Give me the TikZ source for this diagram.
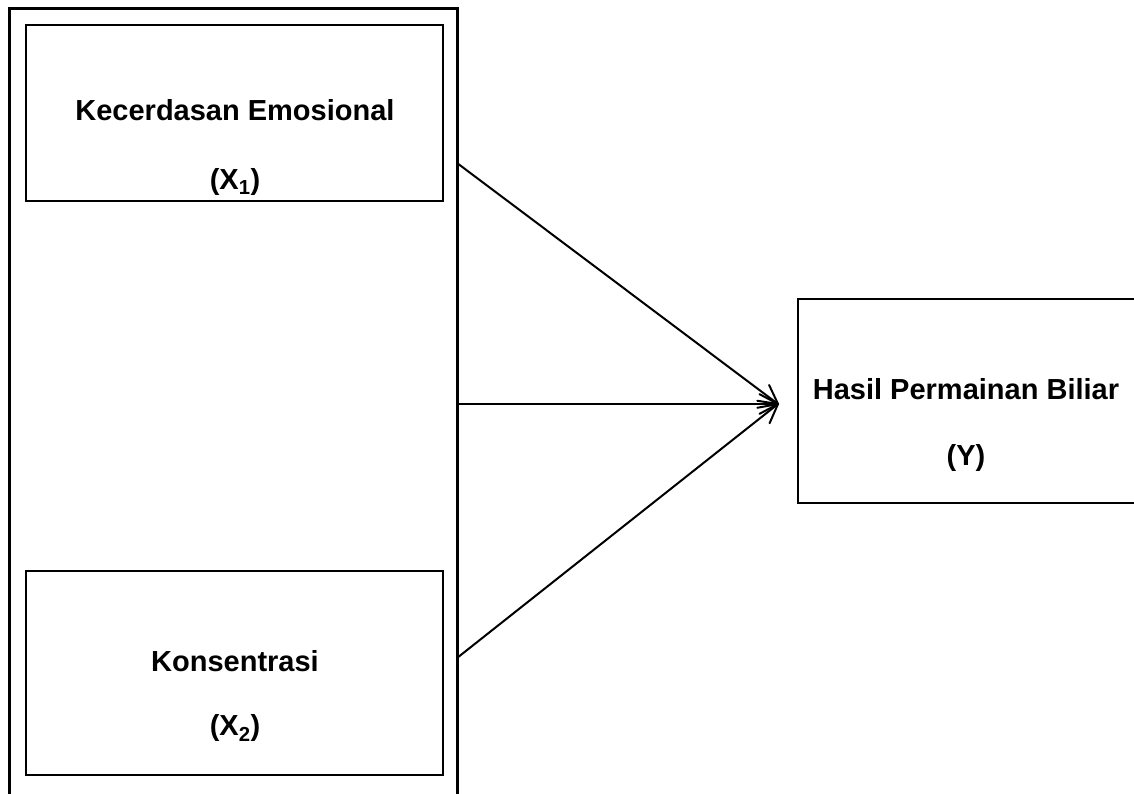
\documentclass[tikz,border=0pt]{standalone}
\usepackage{fontspec}
\setmainfont{Liberation Sans}
\usetikzlibrary{calc}
\tikzset{
  frame/.style={draw=black, line width=3pt},
  box/.style={draw=black, line width=2pt, rectangle, inner sep=0pt},
  lbl/.style={font=\fontsize{29}{34}\selectfont\bfseries, inner sep=0pt, anchor=center},
  conn/.style={draw=black, line width=2pt, line cap=round, line join=round},
}
\newcommand{\barbto}[2]{%
  \draw[conn] (#1) -- (#2);
  \draw[conn] ($(#2)!21pt!28:(#1)$) -- (#2) -- ($(#2)!21pt!-28:(#1)$);
}
\begin{document}
\begin{tikzpicture}[x=1pt,y=1pt]
\useasboundingbox (0,0) rectangle (1134,-794);
% outer frame (bottom runs off the page)
\draw[frame] (9,-810) -- (9,-9) -- (457,-9) -- (457,-810);
% boxes
\node[box, minimum width=417pt, minimum height=176pt] (x1) at (234.5,-113) {};
\node[box, minimum width=417pt, minimum height=204pt] (x2) at (234.5,-673) {};
\node[box, minimum width=344pt, minimum height=204pt] (y) at (970,-401) {};
% labels
\node[lbl] (x1a) at (235,-110) {Kecerdasan Emosional};
\node[lbl] (x1b) at (235,-182) {(X\textsubscript{1})};
\node[lbl] (x2a) at (235,-661) {Konsentrasi};
\node[lbl] (x2b) at (235,-728) {(X\textsubscript{2})};
\node[lbl] (ya) at (966,-389) {Hasil Permainan Biliar};
\node[lbl] (yb) at (966,-458) {(Y)};
% connector anchors
\coordinate (s1) at (457,-163);
\coordinate (s2) at (457,-404);
\coordinate (s3) at (457,-658);
\coordinate (tip) at (778,-404);
\barbto{s1}{tip}
\barbto{s2}{tip}
\barbto{s3}{tip}
\end{tikzpicture}
\end{document}
